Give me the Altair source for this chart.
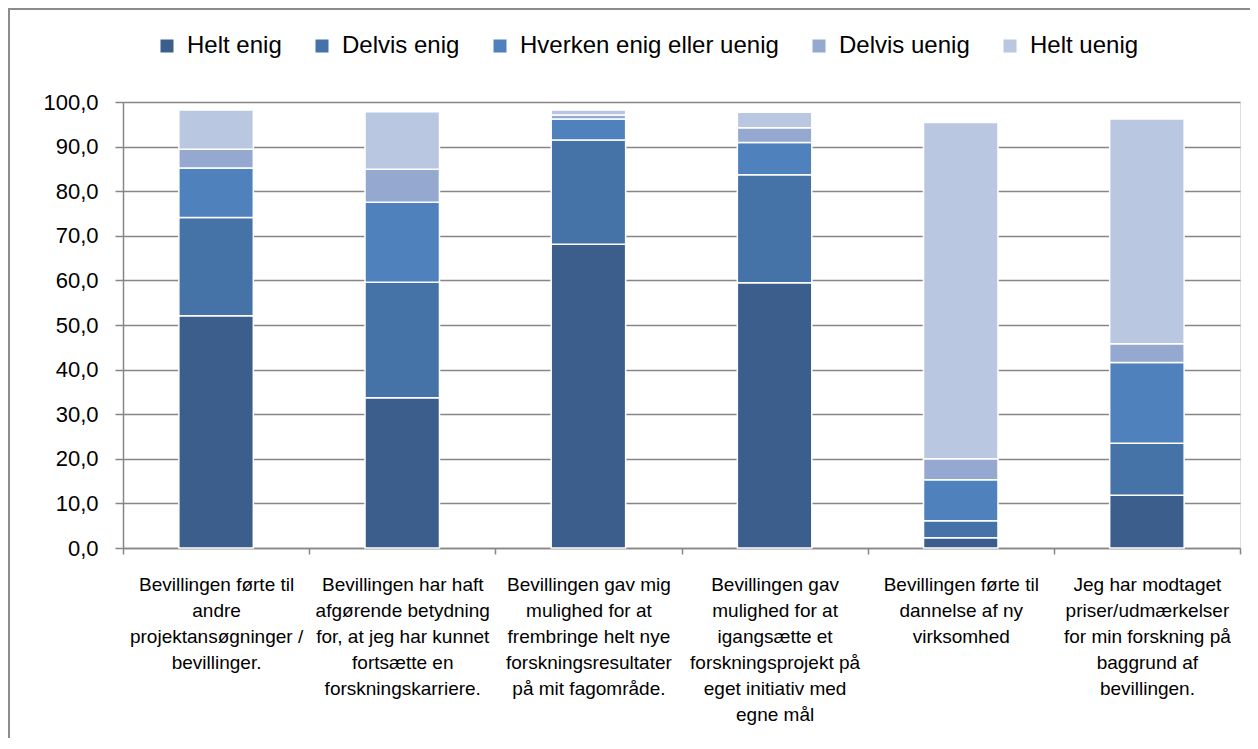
import altair as alt
import pandas as pd

categories = [
    "Bevillingen førte til|andre|projektansøgninger /|bevillinger.",
    "Bevillingen har haft|afgørende betydning|for, at jeg har kunnet|fortsætte en|forskningskarriere.",
    "Bevillingen gav mig|mulighed for at|frembringe helt nye|forskningsresultater|på mit fagområde.",
    "Bevillingen gav|mulighed for at|igangsætte et|forskningsprojekt på|eget initiativ med|egne mål",
    "Bevillingen førte til|dannelse af ny|virksomhed",
    "Jeg har modtaget|priser/udmærkelser|for min forskning på|baggrund af|bevillingen.",
]
series = ["Helt enig", "Delvis enig", "Hverken enig eller uenig", "Delvis uenig", "Helt uenig"]

helt_enig = [52.1, 33.7, 68.1, 59.5, 2.3, 11.8]
delvis_enig = [22.0, 25.9, 23.4, 24.2, 3.8, 11.7]
hverken = [11.1, 17.9, 4.7, 7.2, 9.2, 18.1]
delvis_uenig = [4.2, 7.4, 0.9, 3.3, 4.7, 4.2]
helt_uenig = [8.8, 12.9, 1.1, 3.5, 75.4, 50.4]

colors = ["#3B5E8C", "#4572A7", "#4F81BD", "#95A9D0", "#B9C7E0"]
y_ticks = [0, 10, 20, 30, 40, 50, 60, 70, 80, 90, 100]

values = [helt_enig, delvis_enig, hverken, delvis_uenig, helt_uenig]
rows = []
for si, (s, vals) in enumerate(zip(series, values)):
    for c, v in zip(categories, vals):
        rows.append({"category": c, "series": s, "value": v, "order": si})
df = pd.DataFrame(rows)

W, H = 1117, 446
GRAY = "#868686"
FONT = "Liberation Sans"

bars = alt.Chart(df).mark_bar(
    width=alt.RelativeBandSize(0.4), stroke="white", strokeWidth=1.5
).encode(
    x=alt.X(
        "category:N",
        sort=categories,
        scale=alt.Scale(paddingInner=0, paddingOuter=0),
        axis=alt.Axis(
            title=None,
            labelExpr="split(datum.label, '|')",
            labelAngle=0,
            labelAlign="center",
            labelBaseline="top",
            labelFontSize=19,
            labelLineHeight=26,
            labelColor="#000000",
            labelPadding=21,
            labelLimit=400,
            tickBand="extent",
            tickSize=6,
            tickColor=GRAY,
            tickWidth=1.5,
            domainColor=GRAY,
            domainWidth=1.5,
            grid=False,
        ),
    ),
    y=alt.Y(
        "value:Q",
        stack="zero",
        scale=alt.Scale(domain=[0, 100], nice=False),
        axis=alt.Axis(
            title=None,
            values=y_ticks,
            labelExpr="replace(format(datum.value, '.1f'), '.', ',')",
            labelFontSize=22,
            labelColor="#000000",
            labelPadding=17,
            tickSize=8,
            tickColor=GRAY,
            tickWidth=1.5,
            domainColor=GRAY,
            domainWidth=1.5,
            grid=True,
            gridColor=GRAY,
            gridWidth=1.5,
        ),
    ),
    color=alt.Color(
        "series:N",
        sort=series,
        scale=alt.Scale(domain=series, range=colors),
        legend=alt.Legend(
            title=None,
            orient="none",
            direction="horizontal",
            legendX=32,
            legendY=-68,
            symbolType="square",
            symbolSize=169,
            symbolStrokeWidth=0,
            labelFontSize=24,
            labelColor="#000000",
            labelOffset=8,
            labelLimit=500,
            columnPadding=28,
        ),
    ),
    order=alt.Order("order:Q", sort="ascending"),
)

frame = alt.Chart(pd.DataFrame({"a": [0]})).mark_rect(
    fillOpacity=0, stroke="#8c8c8c", strokeWidth=2
).encode(
    x=alt.value(-114),
    x2=alt.value(W + 200),
    y=alt.value(-93),
    y2=alt.value(H + 400),
)

chart = alt.layer(frame, bars).properties(
    width=W,
    height=H,
    padding={"left": 115, "top": 94, "right": 10, "bottom": 190},
    autosize=alt.AutoSizeParams(type="none"),
).configure_view(stroke=None).configure(font=FONT)

chart.save("out.html", embed_options={"renderer": "svg", "actions": False})
